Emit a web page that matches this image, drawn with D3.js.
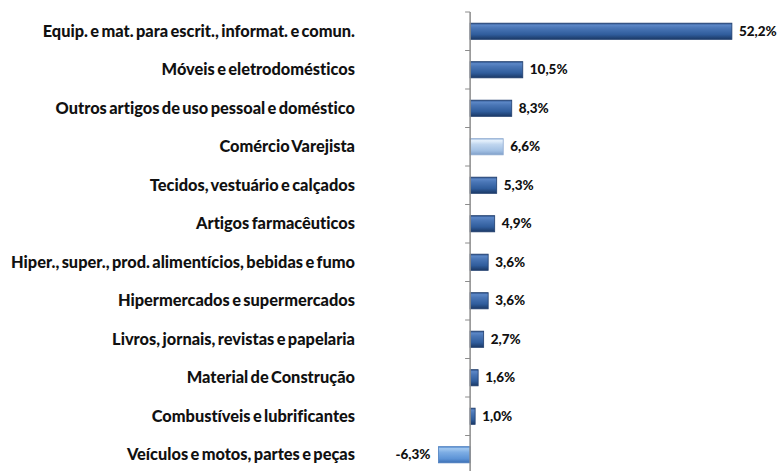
<!DOCTYPE html>
<html>
<head>
<meta charset="utf-8">
<script src="https://cdn.jsdelivr.net/npm/d3@7"></script>
<style>
  body { margin: 0; background: #fff; }
  svg { display: block; }
  text { font-variant-ligatures: none; font-feature-settings: "liga" 0, "dlig" 0; }
</style>
</head>
<body>
<svg id="chart"></svg>
<script>
// chart size
const width = 777;
const height = 471;

// data
const categories = [
  "Equip. e mat. para escrit., informat. e comun.",
  "Móveis e eletrodomésticos",
  "Outros artigos de uso pessoal e doméstico",
  "Comércio Varejista",
  "Tecidos, vestuário e calçados",
  "Artigos farmacêuticos",
  "Hiper., super., prod. alimentícios, bebidas e fumo",
  "Hipermercados e supermercados",
  "Livros, jornais, revistas e papelaria",
  "Material de Construção",
  "Combustíveis e lubrificantes",
  "Veículos e motos, partes e peças"
];
const values = [52.2, 10.5, 8.3, 6.6, 5.3, 4.9, 3.6, 3.6, 2.7, 1.6, 1.0, -6.3];
const valueLabels = ["52,2%", "10,5%", "8,3%", "6,6%", "5,3%", "4,9%", "3,6%", "3,6%", "2,7%", "1,6%", "1,0%", "-6,3%"];

const svg = d3.select("#chart")
  .attr("width", width)
  .attr("height", height);

// gradients for the 3d-ish bars
const defs = svg.append("defs");
function addGradient(id, stops) {
  const g = defs.append("linearGradient")
    .attr("id", id)
    .attr("x1", 0).attr("y1", 0).attr("x2", 0).attr("y2", 1);
  stops.forEach(s => g.append("stop").attr("offset", s[0]).attr("stop-color", s[1]));
}
addGradient("gradDark", [[0, "#2a508b"], [0.12, "#5c87c6"], [0.3, "#4a76b6"], [0.7, "#305d9c"], [1, "#1b3966"]]);
addGradient("gradLight", [[0, "#9fbde0"], [0.12, "#e6f1fc"], [0.35, "#c0d6ef"], [0.75, "#a2c0e3"], [1, "#7f9fc9"]]);
addGradient("gradNeg", [[0, "#4f86cc"], [0.12, "#a2c8f0"], [0.35, "#7dade4"], [0.75, "#5c93d6"], [1, "#3d6fb3"]]);

// scales
const x = d3.scaleLinear()
  .domain([-8, 60])
  .range([430, 771]);

const y = d3.scaleBand()
  .domain(categories)
  .range([12, 474])
  .paddingInner(0.58)
  .paddingOuter(0.29);

// bars
svg.append("g")
  .attr("class", "bars")
  .selectAll("rect")
  .data(values)
  .enter()
  .append("rect")
  .attr("x", d => x(Math.min(0, d)))
  .attr("y", (d, i) => y(categories[i]))
  .attr("width", d => Math.abs(x(d) - x(0)))
  .attr("height", y.bandwidth())
  .attr("fill", (d, i) => {
    if (categories[i] === "Comércio Varejista") return "url(#gradLight)";
    if (d < 0) return "url(#gradNeg)";
    return "url(#gradDark)";
  })
  .attr("stroke", (d, i) => {
    if (categories[i] === "Comércio Varejista") return "#8eaad0";
    if (d < 0) return "#4a7dbf";
    return "#1f3d6d";
  })
  .attr("stroke-width", 0.8);

// axis line at zero with ticks between categories
const axisX = x(0);
const tickYs = d3.range(categories.length + 1).map(k => y.range()[0] + k * y.step());
svg.append("line")
  .attr("x1", axisX).attr("x2", axisX)
  .attr("y1", tickYs[0]).attr("y2", height)
  .attr("stroke", "#8c8c8c")
  .attr("stroke-width", 1.5);
svg.append("g")
  .selectAll("line")
  .data(tickYs)
  .enter()
  .append("line")
  .attr("x1", axisX - 5).attr("x2", axisX)
  .attr("y1", d => d).attr("y2", d => d)
  .attr("stroke", "#8c8c8c")
  .attr("stroke-width", 1);

// category labels
const catLabels = svg.append("g")
  .selectAll("text")
  .data(categories)
  .enter()
  .append("text")
  .attr("x", 355)
  .attr("y", d => y(d) + y.bandwidth() / 2)
  .attr("dy", "0.35em")
  .attr("text-anchor", "end")
  .style("font-family", "Lato, 'Open Sans', sans-serif")
  .style("font-weight", "900")
  .style("word-spacing", "-1.5px")
  .style("font-size", "13px")
  .style("fill", "#111")
  .text(d => d);

// fit the longest label to the width it has in the picture
const longest = d3.max(catLabels.nodes(), n => n.getComputedTextLength());
const fs = 13 * 342 / longest;
catLabels.style("font-size", fs + "px");

// value labels
svg.append("g")
  .selectAll("text")
  .data(values)
  .enter()
  .append("text")
  .attr("x", d => d < 0 ? x(d) - 8 : x(d) + 7)
  .attr("y", (d, i) => y(categories[i]) + y.bandwidth() / 2)
  .attr("dy", "0.35em")
  .attr("text-anchor", d => d < 0 ? "end" : "start")
  .style("font-family", "Lato, 'Open Sans', sans-serif")
  .style("font-weight", "900")
  .style("font-size", "13.5px")
  .style("fill", "#111")
  .text((d, i) => valueLabels[i]);
</script>
</body>
</html>
